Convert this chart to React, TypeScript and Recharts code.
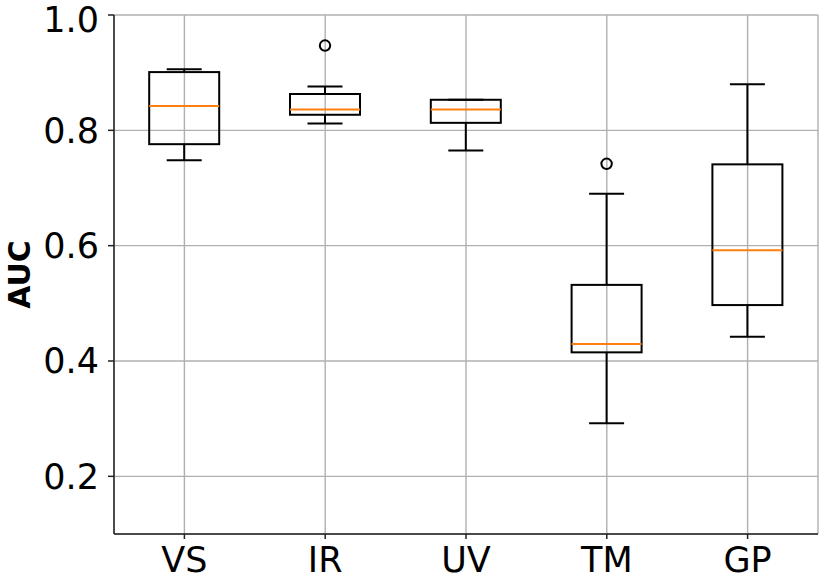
import { ComposedChart, Bar, XAxis, YAxis, CartesianGrid } from "recharts";

const categories = ["VS", "IR", "UV", "TM", "GP"];
const whiskerLow = [0.748, 0.812, 0.765, 0.292, 0.442];
const q1 = [0.776, 0.827, 0.813, 0.415, 0.497];
const median = [0.842, 0.836, 0.836, 0.4295, 0.592];
const q3 = [0.901, 0.863, 0.853, 0.532, 0.741];
const whiskerHigh = [0.906, 0.876, 0.853, 0.69, 0.88];
const outliers: number[][] = [[], [0.947], [], [0.742], []];
const yTicks = [0.2, 0.4, 0.6, 0.8, 1.0];

const FONT = "DejaVu Sans";

const data = categories.map((name, i) => {
  const all = [whiskerLow[i], whiskerHigh[i], ...outliers[i]];
  return {
    name,
    lo: Math.min(...all),
    hi: Math.max(...all),
    whiskerLow: whiskerLow[i],
    q1: q1[i],
    median: median[i],
    q3: q3[i],
    whiskerHigh: whiskerHigh[i],
    outliers: outliers[i],
  };
});

// the bar spans [lo, hi]; everything else is placed along that same scale
function BoxShape(props: any) {
  const { x, y, width, height, payload } = props;
  const top = Math.min(y, y + height);
  const bottom = Math.max(y, y + height);
  const span = payload.hi - payload.lo || 1;
  const yOf = (v: number) => bottom - ((v - payload.lo) / span) * (bottom - top);
  const cx = x + width / 2;
  const capHalf = width / 4;
  const sw = 2;
  return (
    <g>
      <line x1={cx} x2={cx} y1={yOf(payload.q3)} y2={yOf(payload.whiskerHigh)} stroke="#000" strokeWidth={sw} />
      <line x1={cx} x2={cx} y1={yOf(payload.q1)} y2={yOf(payload.whiskerLow)} stroke="#000" strokeWidth={sw} />
      <line x1={cx - capHalf} x2={cx + capHalf} y1={yOf(payload.whiskerHigh)} y2={yOf(payload.whiskerHigh)} stroke="#000" strokeWidth={sw} />
      <line x1={cx - capHalf} x2={cx + capHalf} y1={yOf(payload.whiskerLow)} y2={yOf(payload.whiskerLow)} stroke="#000" strokeWidth={sw} />
      <rect
        x={x}
        y={yOf(payload.q3)}
        width={width}
        height={yOf(payload.q1) - yOf(payload.q3)}
        fill="none"
        stroke="#000"
        strokeWidth={sw}
      />
      <line x1={x} x2={x + width} y1={yOf(payload.median)} y2={yOf(payload.median)} stroke="#ff7f0e" strokeWidth={sw} />
      {payload.outliers.map((v: number, k: number) => (
        <circle key={k} cx={cx} cy={yOf(v)} r={5.2} fill="none" stroke="#000" strokeWidth={sw} />
      ))}
    </g>
  );
}

export default function App() {
  return (
    <div style={{ width: 830, height: 581 }}>
      <style>{`body{margin:0}`}</style>
      <ComposedChart
        width={830}
        height={581}
        data={data}
        margin={{ top: 15, right: 12, bottom: 7, left: 10 }}
        barCategoryGap="25%"
      >
        <CartesianGrid stroke="#b0b0b0" strokeWidth={1.4} />
        <XAxis
          dataKey="name"
          height={40}
          axisLine={{ stroke: "#222", strokeWidth: 1.5 }}
          tickLine={{ stroke: "#222", strokeWidth: 1.5 }}
          tickSize={5}
          tickMargin={8}
          tick={{ fontSize: 35, fill: "#000", fontFamily: FONT }}
        />
        <XAxis
          xAxisId="top"
          dataKey="name"
          orientation="top"
          height={0}
          tick={false}
          tickLine={false}
          axisLine={{ stroke: "#222", strokeWidth: 1.5 }}
        />
        <YAxis
          type="number"
          domain={[0.1, 1.0]}
          ticks={yTicks}
          allowDataOverflow
          width={104}
          tickFormatter={(v: number) => v.toFixed(1)}
          axisLine={{ stroke: "#222", strokeWidth: 1.5 }}
          tickLine={{ stroke: "#222", strokeWidth: 1.5 }}
          tickSize={6}
          tickMargin={9}
          tick={{ fontSize: 35, fill: "#000", fontFamily: FONT }}
          label={{
            content: ({ viewBox }: any) => {
              const lx = viewBox.x + 20;
              const ly = viewBox.y + viewBox.height / 2;
              return (
                <text
                  x={lx}
                  y={ly}
                  transform={`rotate(-90 ${lx} ${ly})`}
                  textAnchor="middle"
                  fontFamily={FONT}
                  fontWeight="bold"
                  fontSize={30}
                  fill="#000"
                >
                  AUC
                </text>
              );
            },
          }}
        />
        <YAxis
          yAxisId="right"
          orientation="right"
          type="number"
          domain={[0.1, 1.0]}
          width={0}
          tick={false}
          tickLine={false}
          axisLine={{ stroke: "#222", strokeWidth: 1.5 }}
        />
        <Bar
          dataKey={(d: any) => [d.lo, d.hi]}
          shape={BoxShape}
          isAnimationActive={false}
        />
      </ComposedChart>
    </div>
  );
}
